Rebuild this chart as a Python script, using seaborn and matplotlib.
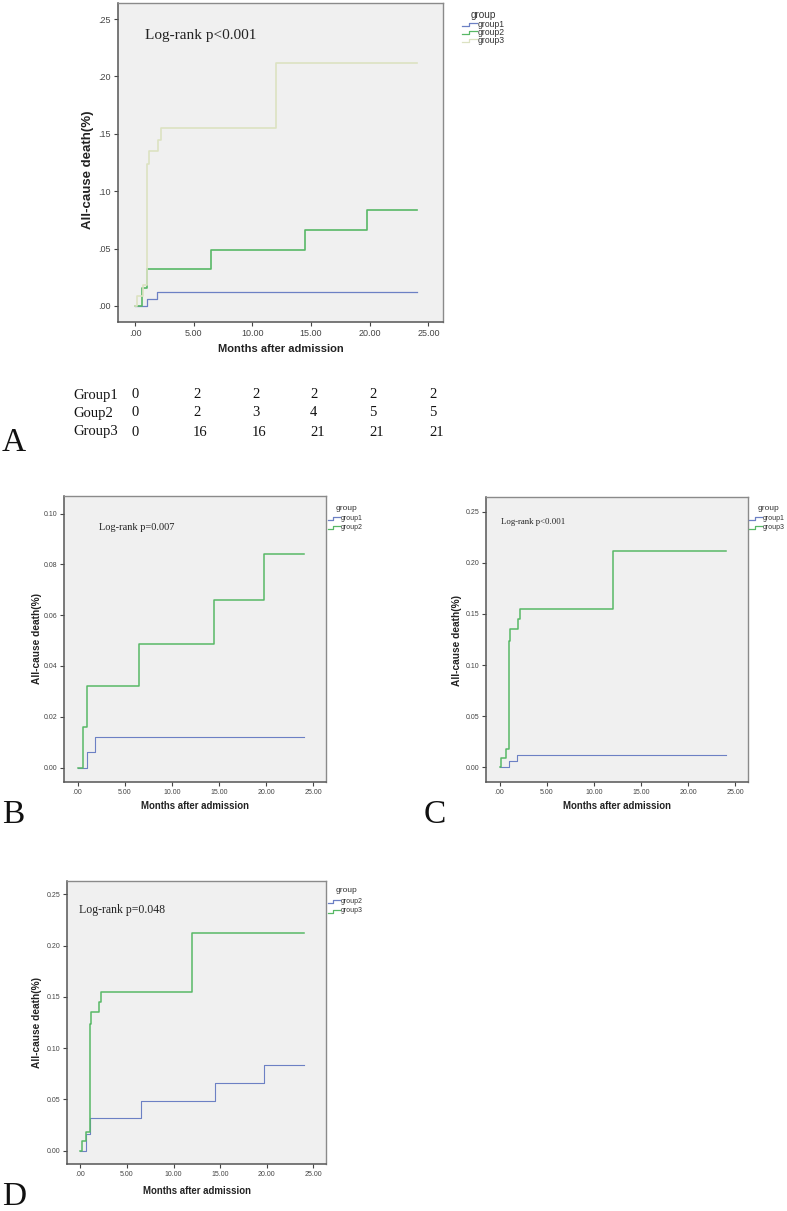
import numpy as np
import pandas as pd
import matplotlib
matplotlib.use("Agg")
import matplotlib.pyplot as plt
from matplotlib.lines import Line2D
import seaborn as sns

# ---------------- data ----------------
g1_t = [0, 1.0, 1.85, 24.0]
g1_v = [0, 0.006, 0.012, 0.012]
g2_t = [0, 0.57, 1.03, 6.5, 14.5, 19.75, 24.0]
g2_v = [0, 0.016, 0.032, 0.0485, 0.066, 0.084, 0.084]
g3_t = [0, 0.18, 0.64, 1.0, 1.15, 2.0, 2.2, 12.0, 24.0]
g3_v = [0, 0.009, 0.018, 0.124, 0.135, 0.145, 0.155, 0.212, 0.212]

table_rows = ["Group1", "Goup2", "Group3"]
table_g1 = [0, 2, 2, 2, 2, 2]
table_g2 = [0, 2, 3, 4, 5, 5]
table_g3 = [0, 16, 16, 21, 21, 21]

x_ticks = [0, 5, 10, 15, 20, 25]
y_ticks_a = [0, 0.05, 0.10, 0.15, 0.20, 0.25]
y_ticks_b = [0, 0.02, 0.04, 0.06, 0.08, 0.10]

series = {"group1": (g1_t, g1_v), "group2": (g2_t, g2_v), "group3": (g3_t, g3_v)}

BLUE = "#6C80C4"
GREEN = "#58B866"
PALE = "#DCE2C2"
BG = "#F0F0F0"

W, H = 787, 1211
fig = plt.figure(figsize=(W / 100, H / 100), dpi=100)
SERIF = ["Liberation Serif", "DejaVu Serif"]
SANS = ["Liberation Sans", "DejaVu Sans"]


def fx(x):
    return x / W


def fy(y):
    return 1 - y / H


def px_rect(l, t, r, b):
    return [l / W, 1 - b / H, (r - l) / W, (b - t) / H]


def strip0(v):
    s = f"{v:.2f}"
    return s[1:] if s.startswith("0") else s


def draw_panel(rect, xlim, ylim, groups, colors, yticks, yfmt, tick_fs,
               lr_text, lr_pos, lr_fs, xlab_pos, ylab_pos, xlab_fs, ylab_fs,
               leg_pos, leg_dy, leg_title_fs, leg_fs, lws):
    ax = fig.add_axes(px_rect(*rect))
    ax.set_facecolor(BG)
    rows = []
    for g in groups:
        t, v = series[g]
        for a, b in zip(t, v):
            rows.append({"time": a, "death": b, "group": g})
    df = pd.DataFrame(rows)
    for g, c, lw in zip(groups, colors, lws):
        sns.lineplot(data=df[df.group == g], x="time", y="death", ax=ax,
                     color=c, lw=lw, drawstyle="steps-post", estimator=None,
                     legend=False)
    ax.set_xlim(*xlim)
    ax.set_ylim(*ylim)
    ax.set_xticks(x_ticks)
    ax.set_xticklabels([strip0(v) for v in x_ticks], fontsize=tick_fs,
                       family=SANS, color="#333333")
    ax.set_yticks(yticks)
    ax.set_yticklabels([yfmt(v) for v in yticks], fontsize=tick_fs,
                       family=SANS, color="#333333")
    ax.tick_params(direction="out", length=3, width=0.8, pad=2,
                   colors="#444444")
    ax.set_xlabel("")
    ax.set_ylabel("")
    for s in ["top", "right"]:
        ax.spines[s].set_color("#8a8a8a")
        ax.spines[s].set_linewidth(1.0)
    for s in ["left", "bottom"]:
        ax.spines[s].set_color("#555555")
        ax.spines[s].set_linewidth(1.1)
    # texts
    fig.text(fx(lr_pos[0]), fy(lr_pos[1]), lr_text, family=SERIF,
             fontsize=lr_fs, ha="left", va="center", color="#222222")
    fig.text(fx(xlab_pos[0]), fy(xlab_pos[1]), "Months after admission",
             family=SANS, fontweight="bold", fontsize=xlab_fs, ha="center",
             va="center", color="#222222")
    fig.text(fx(ylab_pos[0]), fy(ylab_pos[1]), "All-cause death(%)",
             family=SANS, fontweight="bold", fontsize=ylab_fs, ha="center",
             va="center", rotation=90, color="#222222")
    # legend (SPSS-like)
    lx, ly, iw = leg_pos
    fig.text(fx(lx + iw + 6), fy(ly), "group", family=SANS,
             fontsize=leg_title_fs, ha="center", va="center", color="#333333")
    for i, (g, c) in enumerate(zip(groups, colors)):
        yy = ly + (i + 1) * leg_dy + 2
        xs = [lx, lx + iw * 0.45, lx + iw * 0.45, lx + iw]
        ys = [yy + 1.5, yy + 1.5, yy - 1.5, yy - 1.5]
        fig.add_artist(Line2D([fx(v) for v in xs], [fy(v) for v in ys],
                              transform=fig.transFigure, color=c, lw=0.9))
        fig.text(fx(lx + iw + 1), fy(yy), g, family=SANS, fontsize=leg_fs,
                 ha="left", va="center", color="#333333")
    return ax


# Panel A
draw_panel((118, 3, 443, 322), (-1.45, 26.25), (-0.014, 0.264),
           ["group1", "group2", "group3"], [BLUE, GREEN, PALE],
           y_ticks_a, strip0, 6.5,
           "Log-rank p<0.001", (145, 36), 11.0,
           (281, 349), (88, 170), 8.0, 9.5,
           (462, 15, 15), 7.8, 7.2, 6.2, [0.9, 1.2, 1.2])

# Panel B
draw_panel((64, 496, 326, 782), (-1.45, 26.35), (-0.0057, 0.1069),
           ["group1", "group2"], [BLUE, GREEN],
           y_ticks_b, lambda v: f"{v:.2f}", 5.0,
           "Log-rank p=0.007", (99, 527), 7.5,
           (195, 806), (37, 639), 6.9, 7.3,
           (328, 508, 12), 8.8, 6.0, 5.0, [0.8, 1.1])

# Panel C
draw_panel((486, 497, 748, 782), (-1.44, 26.35), (-0.0147, 0.2647),
           ["group1", "group3"], [BLUE, GREEN],
           y_ticks_a, lambda v: f"{v:.2f}", 5.0,
           "Log-rank p<0.001", (501, 522), 6.3,
           (617, 806), (457, 640), 6.9, 7.3,
           (749, 508, 13), 8.8, 6.0, 5.0, [0.8, 1.1])

# Panel D
draw_panel((67, 881, 326, 1164), (-1.43, 26.36), (-0.013, 0.263),
           ["group2", "group3"], [BLUE, GREEN],
           y_ticks_a, lambda v: f"{v:.2f}", 5.0,
           "Log-rank p=0.048", (79, 910), 8.5,
           (197, 1191), (37, 1023), 6.9, 7.3,
           (328, 890, 12), 9.5, 6.0, 5.0, [0.8, 1.1])

# event table under panel A
col_x = [132, 193, 252, 310, 369, 429]
row_y = [395, 413, 432]
for name, vals, yy in zip(table_rows, [table_g1, table_g2, table_g3], row_y):
    fig.text(fx(73), fy(yy), name, family=SERIF, fontsize=10.5, ha="left",
             va="center", color="#111111")
    for xx, v in zip(col_x, vals):
        fig.text(fx(xx), fy(yy), str(v), family=SERIF, fontsize=10.5,
                 ha="left", va="center", color="#111111")

# panel letters
for letter, (xx, yy) in {"A": (2, 443), "B": (2, 815), "C": (424, 815),
                         "D": (2, 1197)}.items():
    fig.text(fx(xx), fy(yy), letter, family=SERIF, fontsize=24, ha="left",
             va="center", color="#111111")

fig.savefig("out.png", dpi=100, facecolor="white")
